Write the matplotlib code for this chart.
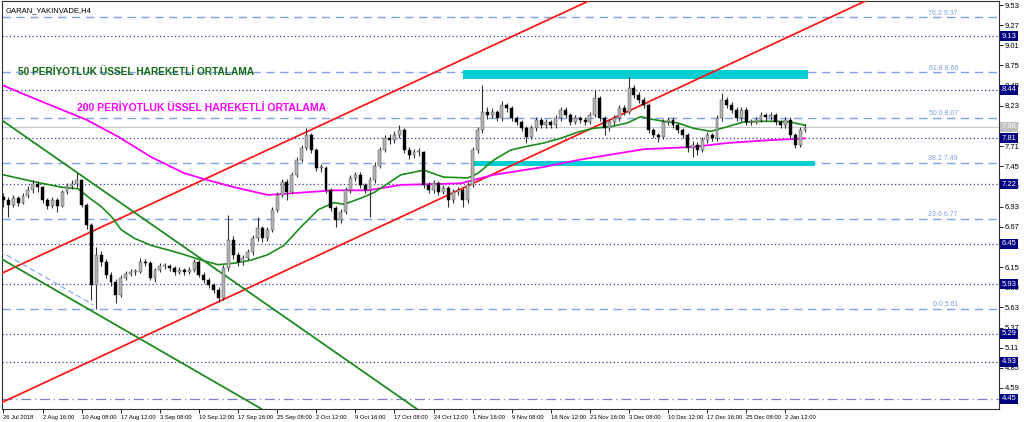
import numpy as np
import matplotlib.pyplot as plt
from matplotlib.transforms import blended_transform_factory
from matplotlib.patches import Rectangle

# GARAN H4 mumlari (kapanis / en yuksek / en dusuk), acilis = onceki kapanis
first_open = 7.05
closes = [7.01, 6.95, 7.04, 6.98, 7.07, 7.14, 7.22, 7.18, 7.01, 6.94,
          7.01, 6.94, 7.12, 7.20, 7.22, 7.27, 6.95, 6.69, 5.92, 6.31,
          6.22, 6.05, 5.96, 5.79, 6.01, 6.06, 6.09, 6.09, 6.22, 6.20,
          6.01, 6.11, 6.16, 6.16, 6.14, 6.09, 6.11, 6.09, 6.11, 6.22,
          6.05, 5.98, 5.92, 5.86, 5.75, 6.14, 6.50, 6.31, 6.22, 6.27,
          6.34, 6.52, 6.65, 6.52, 6.63, 6.89, 7.08, 7.25, 7.12, 7.34,
          7.53, 7.69, 7.85, 7.66, 7.43, 7.43, 7.14, 6.91, 6.76, 6.86,
          7.14, 7.30, 7.34, 7.21, 7.14, 7.27, 7.46, 7.66, 7.81, 7.79,
          7.85, 7.92, 7.66, 7.59, 7.63, 7.63, 7.21, 7.14, 7.23, 7.12,
          7.17, 7.01, 7.12, 7.14, 7.01, 7.21, 7.66, 7.92, 8.15, 8.11,
          8.15, 8.07, 8.24, 8.20, 8.07, 8.02, 7.94, 7.83, 7.94, 8.05,
          7.98, 8.02, 7.98, 8.07, 8.18, 8.11, 8.02, 8.07, 8.05, 8.02,
          8.11, 8.33, 8.07, 7.94, 8.02, 8.07, 8.20, 8.15, 8.46, 8.37,
          8.31, 8.24, 7.92, 7.85, 7.83, 8.02, 8.05, 7.98, 7.92, 7.85,
          7.69, 7.72, 7.66, 7.79, 7.85, 7.81, 8.07, 8.31, 8.24, 8.18,
          8.07, 8.18, 8.02, 8.02, 8.05, 8.11, 8.08, 8.11, 8.02, 7.98,
          8.05, 7.85, 7.72, 7.92, 7.96]
highs = [7.10, 7.05, 7.08, 7.07, 7.11, 7.19, 7.27, 7.26, 7.20, 7.04,
         7.05, 7.04, 7.15, 7.24, 7.27, 7.36, 7.29, 6.98, 6.72, 6.41,
         6.36, 6.25, 6.09, 5.99, 6.05, 6.10, 6.12, 6.12, 6.27, 6.25,
         6.23, 6.14, 6.20, 6.20, 6.19, 6.17, 6.15, 6.14, 6.15, 6.26,
         6.24, 6.08, 6.01, 5.95, 5.89, 6.18, 6.82, 6.55, 6.35, 6.31,
         6.38, 6.56, 6.80, 6.68, 6.67, 6.93, 7.12, 7.29, 7.28, 7.38,
         7.57, 7.73, 7.94, 7.88, 7.69, 7.48, 7.46, 7.17, 6.94, 6.90,
         7.18, 7.34, 7.38, 7.37, 7.24, 7.31, 7.50, 7.70, 7.85, 7.86,
         7.90, 7.98, 7.94, 7.70, 7.67, 7.68, 7.65, 7.25, 7.27, 7.26,
         7.21, 7.20, 7.16, 7.18, 7.17, 7.25, 7.70, 7.96, 8.50, 8.22,
         8.20, 8.18, 8.29, 8.27, 8.23, 8.10, 8.05, 7.97, 7.98, 8.09,
         8.08, 8.06, 8.05, 8.11, 8.22, 8.21, 8.14, 8.11, 8.10, 8.08,
         8.15, 8.43, 8.36, 8.10, 8.06, 8.11, 8.24, 8.24, 8.60, 8.50,
         8.41, 8.34, 8.27, 7.95, 7.88, 8.06, 8.09, 8.08, 8.01, 7.95,
         7.88, 7.77, 7.76, 7.83, 7.89, 7.88, 8.11, 8.40, 8.35, 8.28,
         8.21, 8.22, 8.21, 8.06, 8.09, 8.15, 8.14, 8.15, 8.14, 8.05,
         8.09, 8.08, 7.88, 7.96, 8.00]
lows = [6.92, 6.80, 6.92, 6.94, 6.96, 7.04, 7.11, 7.12, 6.97, 6.90,
        6.91, 6.86, 6.92, 7.09, 7.16, 7.18, 6.92, 6.64, 5.72, 5.61,
        6.16, 6.01, 5.91, 5.69, 5.76, 5.98, 6.03, 6.05, 6.07, 6.16,
        5.98, 5.96, 6.08, 6.12, 6.10, 6.05, 6.06, 6.05, 6.06, 6.08,
        6.02, 5.94, 5.88, 5.82, 5.70, 5.73, 6.10, 6.26, 6.17, 6.18,
        6.24, 6.31, 6.49, 6.47, 6.49, 6.60, 6.86, 7.05, 7.01, 7.09,
        7.31, 7.50, 7.66, 7.62, 7.39, 7.38, 7.10, 6.87, 6.67, 6.72,
        6.83, 7.11, 7.26, 7.17, 7.10, 6.80, 7.24, 7.43, 7.63, 7.74,
        7.75, 7.82, 7.62, 7.55, 7.56, 7.58, 7.17, 7.10, 7.11, 7.08,
        7.09, 6.93, 6.98, 7.08, 6.93, 6.98, 7.18, 7.62, 7.88, 8.06,
        8.07, 8.03, 8.04, 8.15, 8.03, 7.98, 7.90, 7.75, 7.80, 7.91,
        7.94, 7.95, 7.94, 7.95, 8.04, 8.07, 7.98, 7.99, 8.01, 7.98,
        7.99, 8.08, 8.03, 7.85, 7.90, 7.98, 8.04, 8.11, 8.12, 8.33,
        8.27, 8.20, 7.88, 7.81, 7.76, 7.80, 7.98, 7.94, 7.88, 7.81,
        7.63, 7.57, 7.60, 7.63, 7.75, 7.77, 7.78, 8.04, 8.20, 8.14,
        8.03, 8.04, 7.98, 7.98, 7.99, 8.02, 8.04, 8.05, 7.98, 7.94,
        7.95, 7.81, 7.69, 7.70, 7.89]

# hareketli ortalamalar (okunan noktalar: bar no, fiyat)
ema50_x = [0, 6.3, 11.9, 15.3, 17.4, 20.0, 22.1, 24.1, 26.8, 30.2, 33.7, 37.0,
           40.5, 43.9, 47.2, 50.7, 54.1, 57.4, 60.9, 64.4, 67.6, 69.7, 73.2,
           75.8, 78.7, 81.3, 86.0, 90.1, 95.0, 97.1, 100.3, 103.8, 107.3,
           110.5, 114.0, 117.5, 120.8, 124.2, 127.7, 130.4, 132.4, 135.1,
           137.9, 141.2, 144.7, 148.1, 151.4, 154.9, 158.4, 161.0, 164.0]
ema50_y = [7.34, 7.25, 7.18, 7.16, 7.05, 6.93, 6.80, 6.63, 6.52, 6.43, 6.37,
           6.31, 6.24, 6.18, 6.20, 6.24, 6.31, 6.43, 6.67, 6.89, 6.98, 6.96,
           7.04, 7.11, 7.23, 7.34, 7.40, 7.31, 7.30, 7.36, 7.53, 7.66, 7.71,
           7.75, 7.81, 7.89, 7.94, 7.96, 8.01, 8.09, 8.06, 8.03, 8.01, 7.94,
           7.90, 7.96, 8.02, 8.03, 8.03, 8.02, 7.98]
ema200_x = [0, 5.7, 11.9, 17.0, 23.5, 30.2, 37.0, 41.9, 47.2, 54.1, 60.9,
            67.6, 74.6, 81.3, 93.6, 100.3, 110.5, 117.5, 124.2, 131.0,
            141.2, 148.1, 154.9, 164.0]
ema200_y = [8.49, 8.34, 8.18, 8.05, 7.83, 7.57, 7.36, 7.27, 7.18, 7.08, 7.11,
            7.14, 7.14, 7.21, 7.23, 7.34, 7.44, 7.53, 7.60, 7.67, 7.70, 7.75,
            7.78, 7.81]

# trend cizgileri (iki nokta)
red_up = [(0, 6.08), (120, 9.59)]
red_low = [(40.5, 5.60), (151.4, 8.85)]
green_a = [(0, 8.03), (55.4, 5.60)]
green_b = [(0, 6.24), (17.6, 5.60)]
fib_diag_x = [-1, 18.4]
fib_diag_y = [6.365, 5.661]

# seviyeler
fib_levels = [9.37, 8.66, 8.07, 7.49, 6.77, 5.61]
fib_names = ['76.2', '61.8', '50.0', '38.2', '23.6', '0.0']
dot_levels = [9.13, 8.44, 7.81, 7.22, 6.45, 5.93, 5.29, 4.93]
bottom_level = 4.45
last_price = 7.96

# kutular (bar baslangic, bar bitis, alt, ust)
box_top = (94.0, 164.7, 8.58, 8.69)
box_low = (95.6, 166.1, 7.46, 7.52)

yticks = [9.53, 9.27, 9.01, 8.75, 8.49, 8.23, 7.97, 7.71, 7.45, 7.19, 6.93,
          6.67, 6.41, 6.15, 5.89, 5.63, 5.37, 5.11, 4.85, 4.59]
xtick_pos = list(range(0, 161, 8))
xtick_lab = ['26 Jul 2018', '2 Aug 16:00', '10 Aug 08:00', '17 Aug 12:00',
             '3 Sep 08:00', '10 Sep 12:00', '17 Sep 16:00', '25 Sep 08:00',
             '2 Oct 12:00', '9 Oct 16:00', '17 Oct 08:00', '24 Oct 12:00',
             '1 Nov 16:00', '9 Nov 08:00', '16 Nov 12:00', '23 Nov 16:00',
             '3 Dec 08:00', '10 Dec 12:00', '17 Dec 16:00', '25 Dec 08:00',
             '2 Jan 12:00']

plt.rcParams['font.family'] = ['Liberation Sans', 'DejaVu Sans']

fig = plt.figure(figsize=(10.24, 4.22), dpi=100)
ax = fig.add_axes([2/1024, 13/422, 997/1024, 408/422])
ax.set_xlim(-0.3, 203.7)
ax.set_ylim(4.319, 9.582)

fibc = '#7f9ff0'
dotc = '#3a3aa0'

for lv, nm in zip(fib_levels, fib_names):
    ax.axhline(lv, color=fibc, lw=1, dashes=(6, 4), zorder=1)
    ax.text(195.3, lv + 0.01, nm + ' ' + format(lv, '.2f'), color=fibc,
            fontsize=5, ha='right', va='bottom', zorder=2)
for lv in dot_levels:
    ax.axhline(lv, color=dotc, lw=0.9, dashes=(1, 2), zorder=1)
ax.axhline(bottom_level, color='#8080d0', lw=0.9, dashes=(8, 3, 1, 3), zorder=1)
ax.axhline(last_price, color='#c8c8c8', lw=0.8, zorder=1)

for b in (box_top, box_low):
    ax.add_patch(Rectangle((b[0], b[2]), b[1] - b[0], b[3] - b[2],
                           facecolor='#00ced1', edgecolor='none', zorder=2))

ax.axline(red_up[0], red_up[1], color='#ff1a1a', lw=1.3, zorder=3)
ax.axline(red_low[0], red_low[1], color='#ff1a1a', lw=1.3, zorder=3)
ax.axline(green_a[0], green_a[1], color='#1f8a1f', lw=1.3, zorder=3)
ax.axline(green_b[0], green_b[1], color='#1f8a1f', lw=1.3, zorder=3)
ax.plot(fib_diag_x, fib_diag_y, color=fibc, lw=0.8, dashes=(5, 3), zorder=3)

ax.plot(ema200_x, ema200_y, color='#ff00ff', lw=1.3, zorder=4)
ax.plot(ema50_x, ema50_y, color='#1a8c1a', lw=1.2, zorder=5)

# mumlar
c = np.array(closes)
o = np.concatenate([[first_open], c[:-1]])
h = np.array(highs)
l = np.array(lows)
idx = np.arange(len(c))
ax.vlines(idx, l, h, color='#303030', lw=0.8, zorder=6)
bull = c >= o
body = np.maximum(np.abs(c - o), 0.012)
ax.bar(idx[bull], body[bull], bottom=np.minimum(o, c)[bull], width=0.6,
       color='#b4b4b4', edgecolor='#404040', linewidth=0.3, zorder=7)
ax.bar(idx[~bull], body[~bull], bottom=np.minimum(o, c)[~bull], width=0.6,
       color='black', edgecolor='black', linewidth=0.3, zorder=7)

ax.text(3, 8.67, '50 PERİYOTLUK ÜSSEL HAREKETLİ ORTALAMA', color='#136b13',
        fontsize=7.3, fontweight='bold', va='center', ha='left', zorder=8)
ax.text(15.0, 8.20, '200 PERİYOTLUK ÜSSEL HAREKETLİ ORTALAMA', color='#ff00ff',
        fontsize=7.5, fontweight='bold', va='center', ha='left', zorder=8)
ax.text(0.004, 0.985, 'GARAN_YAKINVADE,H4', transform=ax.transAxes,
        fontsize=5.5, va='top', ha='left', zorder=8)

ax.yaxis.tick_right()
ax.set_yticks(yticks)
ax.set_yticklabels([format(v, '.2f') for v in yticks])
ax.tick_params(axis='y', labelsize=5.5, length=3, width=0.6, pad=1)
ax.set_xticks(xtick_pos)
ax.set_xticklabels(xtick_lab)
for t in ax.get_xticklabels():
    t.set_horizontalalignment('left')
ax.tick_params(axis='x', labelsize=4.2, length=3, width=0.6, pad=1)
for s in ax.spines.values():
    s.set_linewidth(0.8)
    s.set_color('#303030')

tr = blended_transform_factory(ax.transAxes, ax.transData)
for lv in dot_levels + [bottom_level]:
    ax.text(1.003, lv, format(lv, '.2f'), transform=tr, fontsize=5.5,
            color='white', va='center', ha='left', zorder=10, clip_on=False,
            bbox=dict(boxstyle='square,pad=0.2', fc='#000080', ec='none'))
ax.text(1.003, last_price, format(last_price, '.2f'), transform=tr,
        fontsize=5.5, color='white', va='center', ha='left', zorder=10,
        clip_on=False, bbox=dict(boxstyle='square,pad=0.2', fc='#c0c0c0', ec='none'))

fig.savefig('out.png', dpi=100)
